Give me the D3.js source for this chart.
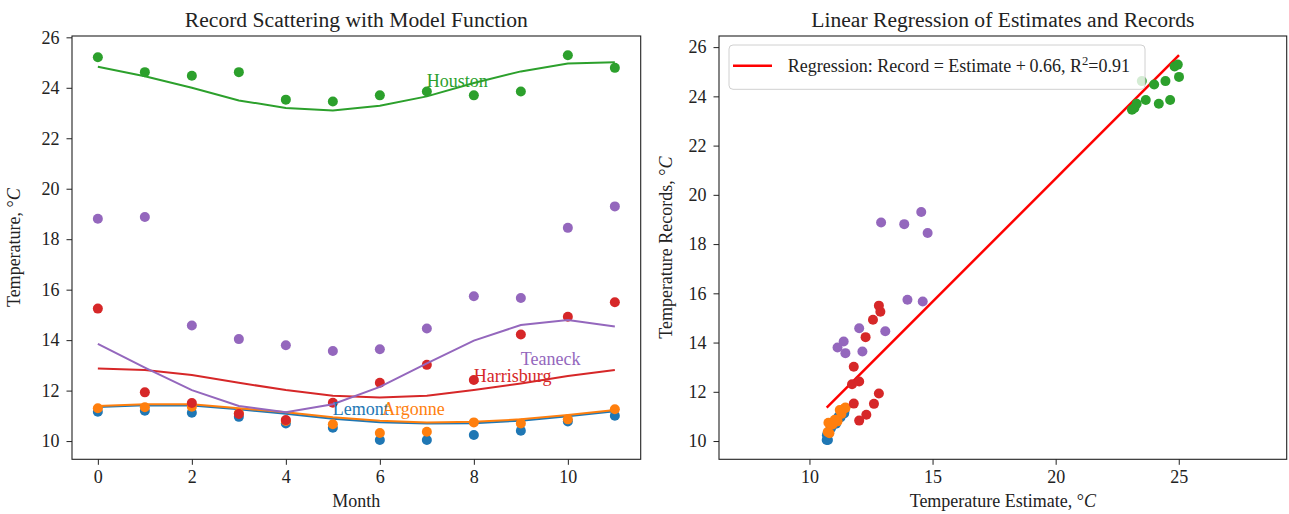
<!DOCTYPE html>
<html>
<head>
<meta charset="utf-8">
<title>Record Scattering with Model Function</title>
<script src="https://d3js.org/d3.v7.min.js"></script>
<style>
  body { margin: 0; background: #fff; }
  svg text { font-family: "Liberation Serif", "Times New Roman", serif; fill: #222; }
  .tick line { stroke: #222; }
</style>
</head>
<body>
<div id="chart"></div>
<script>
// months and cities
var months = [0, 1, 2, 3, 4, 5, 6, 7, 8, 9, 10, 11];
var cities = ["Lemont", "Argonne", "Houston", "Harrisburg", "Teaneck"];
var colors = ["#1f77b4", "#ff7f0e", "#2ca02c", "#d62728", "#9467bd"];

// recorded temperatures (scatter)
var lemontRec     = [11.16, 11.20, 11.12, 10.96, 10.70, 10.53, 10.04, 10.04, 10.24, 10.41, 10.78, 11.00];
var argonneRec    = [11.30, 11.34, 11.36, 11.10, 10.80, 10.67, 10.32, 10.37, 10.74, 10.70, 10.86, 11.26];
var houstonRec    = [25.21, 24.62, 24.48, 24.62, 23.53, 23.46, 23.70, 23.85, 23.70, 23.85, 25.29, 24.79];
var harrisburgRec = [15.25, 11.93, 11.51, 11.07, 10.83, 11.52, 12.31, 13.02, 12.42, 14.22, 14.93, 15.50];
var teaneckRec    = [18.81, 18.88, 14.58, 14.04, 13.80, 13.57, 13.64, 14.46, 15.74, 15.67, 18.45, 19.30];

// model function estimates (lines)
var lemontFit     = [11.35, 11.42, 11.41, 11.26, 11.08, 10.88, 10.75, 10.70, 10.71, 10.81, 10.98, 11.18];
var argonneFit    = [11.39, 11.46, 11.46, 11.30, 11.14, 10.94, 10.81, 10.74, 10.77, 10.86, 11.03, 11.23];
var houstonFit    = [24.83, 24.46, 24.00, 23.50, 23.20, 23.10, 23.29, 23.66, 24.19, 24.65, 24.96, 25.01];
var harrisburgFit = [12.88, 12.82, 12.62, 12.31, 12.02, 11.80, 11.73, 11.80, 12.02, 12.28, 12.58, 12.82];
var teaneckFit    = [13.85, 12.91, 12.02, 11.39, 11.14, 11.46, 12.15, 13.08, 13.98, 14.60, 14.80, 14.54];

// where each city name is written (month, temperature)
var labelMonth = [5.0, 6.05, 7.0, 8.0, 9.0];
var labelTemp  = [11.03, 11.03, 24.02, 12.33, 13.02];

// regression: Record = Estimate + offset
var regOffset = 0.66;
var regR2 = "0.91";

var leftTicksX = [0, 2, 4, 6, 8, 10];
var tempTicks = [10, 12, 14, 16, 18, 20, 22, 24, 26];
var estTicks = [10, 15, 20, 25];

var records = [lemontRec, argonneRec, houstonRec, harrisburgRec, teaneckRec];
var fits = [lemontFit, argonneFit, houstonFit, harrisburgFit, teaneckFit];

var SERIF = "'Liberation Serif', 'Times New Roman', serif";
var W = 1289, H = 514;
var svg = d3.select("#chart").append("svg").attr("width", W).attr("height", H)
    .style("font-family", SERIF);

function pad(ext) {
    var m = (ext[1] - ext[0]) * 0.05;
    return [ext[0] - m, ext[1] + m];
}

function frame(g, w, h) {
    g.append("rect").attr("width", w).attr("height", h)
        .attr("fill", "none").attr("stroke", "#222").attr("stroke-width", 1.1);
}

function styleAxis(sel) {
    sel.attr("font-family", SERIF).attr("font-size", 18);
    sel.select(".domain").remove();
    sel.selectAll("text").style("font-family", SERIF).style("font-size", "18px").attr("fill", "#222");
    sel.selectAll(".tick line").attr("stroke", "#222");
}

// ---------- left panel ----------
var L = { x: 72, y: 36, w: 568.7, h: 423.3 };
var g1 = svg.append("g").attr("transform", "translate(" + L.x + "," + L.y + ")");

var x1 = d3.scaleLinear().domain(pad(d3.extent(months))).range([0, L.w]);
var allTemps = d3.merge(records.concat(fits));
var y1 = d3.scaleLinear().domain(pad(d3.extent(allTemps))).range([L.h, 0]);

g1.append("g").attr("transform", "translate(0," + L.h + ")")
    .call(d3.axisBottom(x1).tickValues(leftTicksX).tickSize(5.5).tickPadding(5.4).tickSizeOuter(0))
    .call(styleAxis);
g1.append("g")
    .call(d3.axisLeft(y1).tickValues(tempTicks).tickSize(5.5).tickPadding(7).tickSizeOuter(0))
    .call(styleAxis);

var line1 = d3.line().x(function (d, i) { return x1(months[i]); }).y(function (d) { return y1(d); });

cities.forEach(function (c, k) {
    g1.append("g").selectAll("circle")
        .data(records[k]).enter().append("circle")
        .attr("cx", function (d, i) { return x1(months[i]); })
        .attr("cy", function (d) { return y1(d); })
        .attr("r", 5).attr("fill", colors[k]);
    g1.append("path").datum(fits[k])
        .attr("d", line1).attr("fill", "none")
        .attr("stroke", colors[k]).attr("stroke-width", 2);
});

cities.forEach(function (c, k) {
    g1.append("text")
        .attr("x", x1(labelMonth[k])).attr("y", y1(labelTemp[k]))
        .style("font-size", "18px").style("fill", colors[k])
        .text(c);
});

frame(g1, L.w, L.h);

svg.append("text").attr("x", L.x + L.w / 2).attr("y", 26.5)
    .attr("text-anchor", "middle").style("font-size", "21.6px")
    .text("Record Scattering with Model Function");
svg.append("text").attr("x", L.x + L.w / 2).attr("y", 507)
    .attr("text-anchor", "middle").style("font-size", "18px").text("Month");
var yl1 = svg.append("text")
    .attr("transform", "translate(19.5," + (L.y + L.h / 2) + ") rotate(-90)")
    .attr("text-anchor", "middle").style("font-size", "18px");
yl1.append("tspan").text("Temperature, °");
yl1.append("tspan").style("font-style", "italic").text("C");

// ---------- right panel ----------
var R = { x: 719, y: 36, w: 567.7, h: 423.3 };
var g2 = svg.append("g").attr("transform", "translate(" + R.x + "," + R.y + ")");

var pts = [];
cities.forEach(function (c, k) {
    months.forEach(function (m, i) {
        pts.push({ k: k, est: fits[k][i], rec: records[k][i] });
    });
});
var estExt = d3.extent(pts, function (d) { return d.est; });
var regLine = [
    { est: estExt[0], rec: estExt[0] + regOffset },
    { est: estExt[1], rec: estExt[1] + regOffset }
];

var yVals = pts.map(function (d) { return d.rec; }).concat(regLine.map(function (d) { return d.rec; }));
var y2 = d3.scaleLinear().domain(pad(d3.extent(yVals))).range([R.h, 0]);
// equal aspect: x span follows y span
var ySpan = y2.domain()[1] - y2.domain()[0];
var xSpan = ySpan * R.w / R.h;
var xMid = (estExt[0] + estExt[1]) / 2;
var x2 = d3.scaleLinear().domain([xMid - xSpan / 2, xMid + xSpan / 2]).range([0, R.w]);

g2.append("g").attr("transform", "translate(0," + R.h + ")")
    .call(d3.axisBottom(x2).tickValues(estTicks).tickSize(5.5).tickPadding(5.4).tickSizeOuter(0))
    .call(styleAxis);
g2.append("g")
    .call(d3.axisLeft(y2).tickValues(tempTicks).tickSize(5.5).tickPadding(7).tickSizeOuter(0))
    .call(styleAxis);

g2.append("path").datum(regLine)
    .attr("d", d3.line().x(function (d) { return x2(d.est); }).y(function (d) { return y2(d.rec); }))
    .attr("fill", "none").attr("stroke", "#ff0000").attr("stroke-width", 2.5);

g2.append("g").selectAll("circle")
    .data(pts).enter().append("circle")
    .attr("cx", function (d) { return x2(d.est); })
    .attr("cy", function (d) { return y2(d.rec); })
    .attr("r", 5).attr("fill", function (d) { return colors[d.k]; });

// legend
var lg = g2.append("g").attr("transform", "translate(10,9)");
lg.append("rect").attr("width", 416).attr("height", 44.3).attr("rx", 4)
    .attr("fill", "#fff").attr("fill-opacity", 0.8)
    .attr("stroke", "#d0d0d0").attr("stroke-width", 1);
lg.append("line").attr("x1", 4).attr("x2", 43).attr("y1", 20.7).attr("y2", 20.7)
    .attr("stroke", "#ff0000").attr("stroke-width", 2.5);
var lt = lg.append("text").attr("x", 58.7).attr("y", 27).style("font-size", "18px");
lt.append("tspan").text("Regression: Record = Estimate +\u20090." + String(regOffset).split(".")[1] + ", R");
lt.append("tspan").attr("dy", -7).style("font-size", "12.6px").text("2");
lt.append("tspan").attr("dy", 7).text("=" + regR2);

frame(g2, R.w, R.h);

svg.append("text").attr("x", R.x + R.w / 2).attr("y", 26.5)
    .attr("text-anchor", "middle").style("font-size", "21.6px")
    .text("Linear Regression of Estimates and Records");
var xl2 = svg.append("text").attr("x", R.x + R.w / 2).attr("y", 507)
    .attr("text-anchor", "middle").style("font-size", "18px");
xl2.append("tspan").text("Temperature Estimate, °");
xl2.append("tspan").style("font-style", "italic").text("C");
var yl2 = svg.append("text")
    .attr("transform", "translate(672," + (R.y + R.h / 2) + ") rotate(-90)")
    .attr("text-anchor", "middle").style("font-size", "18px");
yl2.append("tspan").text("Temperature Records, °");
yl2.append("tspan").style("font-style", "italic").text("C");
</script>
</body>
</html>
